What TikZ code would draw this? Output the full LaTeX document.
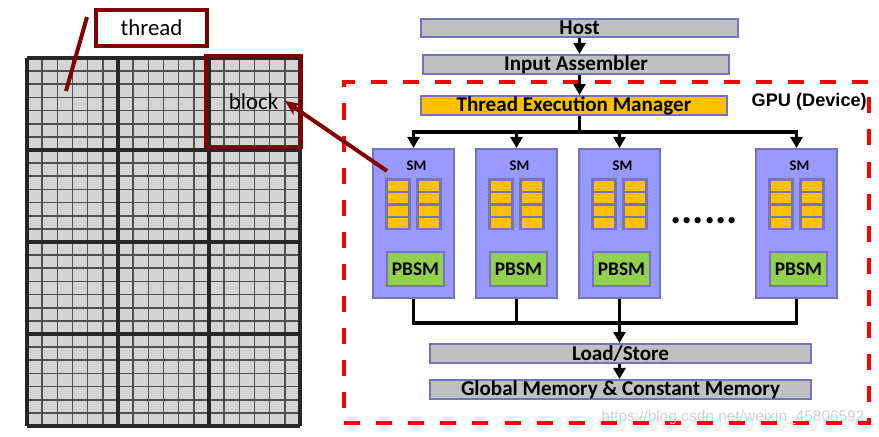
\documentclass[tikz,border=0pt]{standalone}
\usepackage{fontspec}
\setmainfont{Carlito}
\newfontfamily\arialfont{Liberation Sans}
\usetikzlibrary{positioning, arrows.meta, calc}

\definecolor{darkred}{HTML}{800000}
\definecolor{barline}{HTML}{7373BF}
\definecolor{bargray}{HTML}{C0C0C0}
\definecolor{smblue}{HTML}{9999FF}
\definecolor{regorange}{HTML}{FFC000}
\definecolor{pbgreen}{HTML}{92D050}
\definecolor{cellgray}{HTML}{D4D4D4}
\definecolor{gridgray}{HTML}{505050}

\def\px{0.03cm}

\tikzset{
    bar/.style={draw=barline, fill=bargray, line width=1.8pt, inner sep=0pt,
        font=\bfseries\fontsize{18}{18}\selectfont},
    smbox/.style={draw=barline, fill=smblue, line width=1.8pt, inner sep=0pt,
        minimum width=81*\px, minimum height=149*\px},
    smlabel/.style={font=\bfseries\fontsize{12.5}{12.5}\selectfont, inner sep=0pt},
    pbsm/.style={draw=barline, fill=pbgreen, line width=2.2pt, inner sep=0pt,
        minimum width=57*\px, minimum height=34*\px,
        font=\bfseries\fontsize{16.5}{16.5}\selectfont},
    wire/.style={black, line width=2.6pt},
    flow/.style={wire, -{Triangle[length=0.33cm, width=0.36cm]}},
    redframe/.style={draw=darkred, line width=3.4pt, inner sep=0pt,
        font=\fontsize{19.5}{19.5}\selectfont},
}

\begin{document}
\begin{tikzpicture}[x=\px, y=-\px]
        \useasboundingbox (0,0) rectangle (879,436);

        % grid of threads
        \fill[cellgray] (27,58) rectangle (300,426);

        % draw thin vertical lines
        \foreach \i in {0,...,18}
        {
            \draw[gridgray, line width=1.4pt] (27+\i*91/6,58) -- (27+\i*91/6,426);
        }

        % draw thin horizontal lines
        \foreach \j in {0,...,28}
        {
            \draw[gridgray, line width=1.4pt] (27,58+\j*92/7) -- (300,58+\j*92/7);
        }

        % block borders
        \foreach \i in {0,...,3}
        {
            \draw[black!85, line width=2.8pt] (27+\i*91,58) -- (27+\i*91,426);
        }
        \foreach \j in {0,...,4}
        {
            \draw[black!85, line width=2.8pt] (27,58+\j*92) -- (300,58+\j*92);
        }

        % thread and block
        \node[redframe, minimum width=111*\px, minimum height=36*\px] (threadbox) at (151.5,28) {thread};
        \node[redframe, minimum width=95*\px, minimum height=91*\px] (blockbox) at (253.5,101.5) {block};
        \coordinate (threadtop) at (87,17);
        \coordinate (threadcell) at (66,91);
        \draw[darkred, line width=3.4pt] (threadtop) -- (threadcell);

        % device frame
        \node[draw=red, line width=3pt, dash pattern=on 13.7pt off 13.7pt,
            minimum width=525*\px, minimum height=341*\px] (gpu) at (606.5,252.5) {};
        \node[font=\arialfont\bfseries\fontsize{15.5}{15.5}\selectfont, inner sep=0pt, anchor=east] (gpulabel) at (867,102) {GPU (Device)};

        % pipeline bars
        \node[bar, minimum width=317*\px, minimum height=18*\px] (host) at (579.5,28) {Host};
        \node[bar, minimum width=306*\px, minimum height=19*\px] (ia) at (576,64.5) {Input Assembler};
        \node[bar, fill=regorange, minimum width=306*\px, minimum height=19*\px] (tem) at (574,105.5) {Thread Execution Manager};
        \node[bar, minimum width=381*\px, minimum height=19*\px] (loadstore) at (620.5,353.5) {Load/Store};
        \node[bar, minimum width=381*\px, minimum height=19*\px] (globalmem) at (620.5,389.5) {Global Memory \& Constant Memory};

        % streaming multiprocessors
        \foreach \n/\cx in {1/413.5, 2/516.5, 3/619.5, 4/796.5}
        {
            \node[smbox] (sm\n) at (\cx,223.5) {};
            \node[smlabel] (smlabel\n) at (\cx+3,166) {SM};
            \foreach \dx in {-28.5, 2.5}
            {
                \fill[barline] (\cx+\dx,178) rectangle ++(26,52);
                \foreach \k in {0,...,3}
                {
                    \fill[regorange] (\cx+\dx+3,181+\k*12.3) rectangle ++(20,10);
                }
            }
            \node[pbsm] (pbsm\n) at (\cx+2,269) {PBSM};
        }
        \node[font=\bfseries\fontsize{36}{36}\selectfont, inner sep=0pt, anchor=base] (dots) at (704,223.5) {......};

        % connections
        \coordinate (topbus) at (579.5,132);
        \coordinate (lowbus) at (619.5,323);
        \draw[flow] (host.south -| topbus) -- (ia.north -| topbus);
        \draw[flow] (ia.south -| topbus) -- (tem.north -| topbus);
        \draw[wire] (tem.south -| topbus) -- (topbus);
        \foreach \n in {1,...,4}
        {
            \draw[flow] (topbus) -| (sm\n.north);
            \draw[wire] (sm\n.south) |- (lowbus);
        }
        \draw[flow] (lowbus) -- (lowbus |- loadstore.north);
        \draw[flow] (loadstore.south -| lowbus) -- (lowbus |- globalmem.north);

        % watermark
        \node[font=\arialfont\fontsize{13.2}{13.2}\selectfont, text=black!18, inner sep=0pt] (mark) at (733,417) {https://blog.csdn.net/weixin\_45806592};

        % block to SM
        \coordinate (blocktip) at (285,101);
        \coordinate (smpoint) at ($(sm1.north west)+(15,23)$);
        \draw[darkred, line width=3.4pt, -{Stealth[length=0.45cm, width=0.4cm]}] (smpoint) -- (blocktip);
\end{tikzpicture}
\end{document}
